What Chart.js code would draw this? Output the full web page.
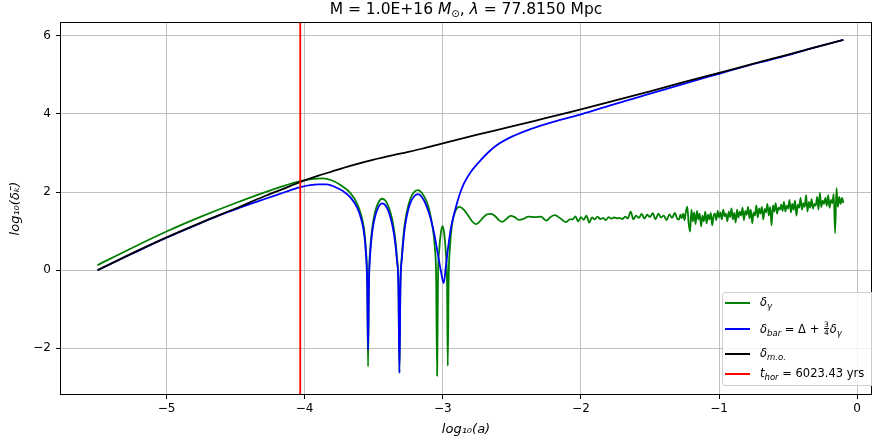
<!DOCTYPE html>
<html><head><meta charset="utf-8">
<script src="https://cdn.jsdelivr.net/npm/chart.js@4"></script>
<style>
html,body{margin:0;padding:0;background:#fff;overflow:hidden;}
#wrap{position:relative;width:872px;height:445px;overflow:hidden;font-family:'DejaVu Sans',sans-serif;color:#000;}
#title{position:absolute;left:61px;width:810px;top:0px;text-align:center;font-size:15.5px;line-height:19px;}
#title sub{font-size:10px;vertical-align:-3px;}
#legend{position:absolute;left:722px;top:292px;width:160px;height:94px;background:rgba(255,255,255,0.8);border:1px solid #d0d0d0;border-radius:3px;box-sizing:border-box;font-size:11.5px;}
.row{position:absolute;left:2px;height:16px;display:flex;align-items:center;white-space:nowrap;}
.sw{width:25px;height:2px;margin-right:10px;}
.row sub{font-size:8.5px;vertical-align:-3px;}
.frac{display:inline-flex;flex-direction:column;font-size:7.5px;line-height:7.5px;vertical-align:middle;margin:0 1px;text-align:center;}
.frac .n{border-bottom:0.8px solid #000;}
canvas{position:absolute;left:0;top:0;}
</style></head>
<body>
<div id="wrap">
<canvas id="c" width="872" height="445"></canvas>
<div id="title">M = 1.0E+16 <i>M</i><sub>⊙</sub>, <i>λ</i> = 77.8150 Mpc</div>
<div id="legend">
  <div class="row" style="top:2px"><span class="sw" style="background:#008000"></span><span><i>δ</i><sub><i>γ</i></sub></span></div>
  <div class="row" style="top:28px"><span class="sw" style="background:#0000ff"></span><span><i>δ</i><sub><i>bar</i></sub> = Δ + <span class="frac"><span class="n">3</span><span>4</span></span><i>δ</i><sub><i>γ</i></sub></span></div>
  <div class="row" style="top:53px"><span class="sw" style="background:#000"></span><span><i>δ</i><sub><i>m.o.</i></sub></span></div>
  <div class="row" style="top:73px"><span class="sw" style="background:#ff0000"></span><span><i>t</i><sub><i>hor</i></sub> = 6023.43 yrs</span></div>
</div>
</div>
<script>
// ---- data (x = log10(a), y = log10(delta)) ----
const tHorX = -4.032;
const redLine = [[tHorX, -4], [tHorX, 7]];

const blackCurve = [
  [-5.5,0.0],[-5.25,0.43],[-5.0,0.84],[-4.75,1.22],[-4.5,1.58],[-4.3,1.88],[-4.15,2.09],[-4.03,2.26],
  [-3.9,2.42],[-3.8,2.53],[-3.67,2.67],[-3.5,2.83],[-3.3,2.99],[-3.15,3.11],[-3.0,3.25],
  [-2.75,3.47],[-2.5,3.68],[-2.25,3.9],[-2.0,4.12],[-1.75,4.35],[-1.5,4.58],[-1.25,4.82],
  [-1.0,5.05],[-0.75,5.29],[-0.5,5.52],[-0.3,5.71],[-0.1,5.9]
];

const blueCurve = [
  [-5.5,0.0],[-5.25,0.42],[-5.0,0.83],[-4.75,1.21],[-4.6,1.43],[-4.47,1.6],[-4.3,1.81],[-4.2,1.93],
  [-4.1,2.05],[-4.03,2.13],[-3.96,2.18],[-3.9,2.2],[-3.84,2.2],[-3.78,2.13],[-3.72,2.02],
  [-3.67,1.87],[-3.62,1.6],[-3.59,1.3],[-3.57,0.95],[-3.556,0.4],[-3.547,-0.4],
  [-3.541,-2.04],[-3.535,-0.4],[-3.526,0.4],[-3.51,1.0],[-3.49,1.38],[-3.465,1.62],[-3.44,1.71],
  [-3.415,1.66],[-3.39,1.48],[-3.365,1.15],[-3.345,0.72],[-3.332,0.25],[-3.321,-0.45],
  [-3.314,-2.63],[-3.307,-0.45],[-3.296,0.3],[-3.28,0.95],[-3.26,1.4],[-3.235,1.72],
  [-3.205,1.9],[-3.18,1.95],[-3.15,1.87],[-3.12,1.66],[-3.09,1.35],[-3.06,0.9],
  [-3.035,0.4],[-3.015,0.0],[-2.993,-0.33],[-2.978,0.1],[-2.96,0.62],[-2.94,1.1],[-2.91,1.55],
  [-2.88,1.92],[-2.85,2.2],[-2.8,2.5],[-2.73,2.8],[-2.67,3.02],[-2.61,3.2],[-2.5,3.42],
  [-2.36,3.62],[-2.2,3.8],[-2.0,3.99],[-1.75,4.26],[-1.5,4.52],[-1.25,4.78],[-1.0,5.03],
  [-0.75,5.28],[-0.5,5.51],[-0.3,5.71],[-0.1,5.9]
];

const greenCurve = [
  [-5.5,0.13],[-5.25,0.57],[-5.0,0.99],[-4.75,1.37],[-4.5,1.72],[-4.3,1.98],[-4.15,2.16],[-4.03,2.28],
  [-3.95,2.33],[-3.87,2.35],[-3.81,2.31],[-3.74,2.18],[-3.67,1.98],[-3.62,1.7],[-3.59,1.4],
  [-3.57,1.05],[-3.556,0.5],[-3.547,-0.3],[-3.541,-2.47],[-3.535,-0.3],[-3.526,0.5],[-3.51,1.1],
  [-3.49,1.5],[-3.465,1.74],[-3.44,1.83],[-3.415,1.78],[-3.39,1.6],[-3.365,1.28],[-3.345,0.82],
  [-3.332,0.33],[-3.321,-0.4],[-3.314,-2.63],[-3.307,-0.4],[-3.296,0.38],[-3.28,1.05],
  [-3.26,1.5],[-3.235,1.83],[-3.205,2.01],[-3.18,2.05],[-3.15,1.97],[-3.12,1.78],[-3.095,1.5],
  [-3.075,1.12],[-3.058,0.6],[-3.048,-0.2],[-3.041,-2.70],[-3.035,-0.3],[-3.025,0.55],
  [-3.012,1.0],[-3.002,1.13],[-2.99,0.95],[-2.978,0.45],[-2.969,-0.35],[-2.964,-2.45],
  [-2.958,-0.3],[-2.948,0.6],[-2.932,1.2],[-2.91,1.5],[-2.88,1.62],[-2.85,1.56],[-2.82,1.42],
  [-2.79,1.26],[-2.76,1.18],[-2.735,1.24],[-2.71,1.34],[-2.68,1.43],[-2.65,1.44],[-2.62,1.38],
  [-2.59,1.27],[-2.57,1.24],[-2.54,1.31],[-2.51,1.39],[-2.48,1.36],[-2.45,1.29],[-2.42,1.31],
  [-2.38,1.37],[-2.33,1.36],[-2.29,1.37],[-2.25,1.27],[-2.22,1.36],[-2.19,1.41],[-2.15,1.33],
  [-2.11,1.23],[-2.08,1.30],
  [-2.06,1.30],[-2.04,1.38],[-2.02,1.25],[-2.00,1.36],[-1.98,1.29],[-1.96,1.40],[-1.94,1.22],
  [-1.92,1.35],[-1.90,1.30],[-1.88,1.37],[-1.86,1.31],[-1.84,1.34],[-1.82,1.28],[-1.80,1.36],
  [-1.78,1.32],[-1.76,1.35],[-1.74,1.33],[-1.72,1.34],[-1.70,1.31],[-1.68,1.37],[-1.66,1.33],
  [-1.64,1.50],[-1.62,1.30],[-1.60,1.40],[-1.58,1.34],[-1.56,1.44],[-1.54,1.32],[-1.52,1.42],
  [-1.50,1.36],[-1.48,1.46],[-1.46,1.30],[-1.44,1.45],[-1.42,1.35],[-1.40,1.40],[-1.38,1.28],
  [-1.36,1.43],[-1.34,1.34],[-1.32,1.47],[-1.30,1.30],
  [-1.29,1.30],[-1.28,1.42],[-1.27,1.33],[-1.26,1.45],[-1.25,1.28],[-1.24,1.50],[-1.23,1.63],
  [-1.22,1.20],[-1.21,0.99],[-1.20,1.55],[-1.19,1.25],[-1.18,1.48],[-1.17,1.18],[-1.16,1.52],
  [-1.15,1.30],[-1.14,1.45],[-1.13,1.12],[-1.12,1.40],[-1.11,1.25],[-1.10,1.50],[-1.09,1.20],
  [-1.08,1.42],[-1.07,1.30],[-1.06,1.47],[-1.05,1.15],[-1.04,1.38],[-1.03,1.45],[-1.02,1.28],
  [-1.01,1.52],[-1.00,1.35],[-0.99,1.48],[-0.98,1.30],[-0.97,1.55],[-0.96,1.38],[-0.95,1.45],
  [-0.94,1.25],[-0.93,1.50],[-0.92,1.36],[-0.91,1.58],[-0.90,1.30],[-0.89,1.47],[-0.88,1.22],
  [-0.87,1.55],[-0.86,1.35],[-0.85,1.50],[-0.84,1.40],[-0.83,1.60],[-0.82,1.28],[-0.81,1.52],
  [-0.80,1.42],[-0.79,1.62],[-0.78,1.33],[-0.77,1.55],[-0.76,1.20],[-0.75,1.48],[-0.74,1.40],
  [-0.73,1.66],[-0.72,1.35],[-0.71,1.58],[-0.70,1.45],[-0.69,1.62],[-0.68,1.30],[-0.67,1.57],
  [-0.66,1.48],[-0.65,1.70],[-0.64,1.40],[-0.63,1.62],[-0.62,1.15],[-0.61,1.66],[-0.60,1.50],
  [-0.59,1.72],[-0.58,1.45],[-0.57,1.60],[-0.56,1.55],[-0.55,1.68],[-0.54,1.52],[-0.53,1.75],
  [-0.52,1.50],[-0.51,1.65],[-0.50,1.58],[-0.49,1.80],[-0.48,1.48],[-0.47,1.70],[-0.46,1.55],
  [-0.45,1.78],[-0.44,1.40],[-0.43,1.68],[-0.42,1.60],[-0.41,1.85],[-0.40,1.55],[-0.39,1.72],
  [-0.38,1.62],[-0.37,1.92],[-0.36,1.50],[-0.35,1.75],[-0.34,1.60],[-0.33,1.82],[-0.32,1.58],
  [-0.31,1.70],[-0.30,1.65],[-0.29,1.88],[-0.28,1.55],[-0.27,1.98],[-0.26,1.62],[-0.25,1.78],
  [-0.24,1.70],[-0.23,1.85],[-0.22,1.65],[-0.21,1.92],[-0.20,1.60],[-0.19,1.80],[-0.18,1.72],
  [-0.17,1.95],[-0.16,0.95],[-0.15,2.10],[-0.14,1.62],[-0.13,1.88],[-0.12,1.70],[-0.11,1.85],
  [-0.10,1.72]
];

const xTickStep = 1, yTickStep = 2;
const xRange = [-5.764, 0.1], yRange = [-3.17, 6.33];

// ---- chart ----
const toPts = arr => arr.map(p => ({x: p[0], y: p[1]}));
const fmt = v => (v < 0 ? '\u2212' + Math.abs(v) : String(v));

const framePlugin = {
  id: 'frame',
  afterDraw(chart) {
    const {ctx, chartArea: a} = chart;
    ctx.save();
    ctx.strokeStyle = '#000';
    ctx.lineWidth = 1;
    ctx.strokeRect(a.left - 0.5, a.top - 0.5, a.right - a.left + 1, a.bottom - a.top + 1);
    ctx.restore();
  }
};

const font = {family: "'DejaVu Sans', sans-serif", size: 12};
const ds = (label, arr, color, w, smooth) => ({
  label, data: toPts(arr), borderColor: color, backgroundColor: color,
  borderWidth: w, pointRadius: 0, fill: false,
  cubicInterpolationMode: smooth ? 'monotone' : 'default', tension: 0,
  borderJoinStyle: 'round'
});

new Chart(document.getElementById('c'), {
  type: 'line',
  data: {
    datasets: [
      ds('t_hor', redLine, '#ff0000', 1.8, false),
      ds('delta_m.o.', blackCurve, '#000000', 1.8, true),
      ds('delta_bar', blueCurve, '#0000ff', 1.8, true),
      ds('delta_gamma', greenCurve, '#008000', 1.8, true)
    ]
  },
  options: {
    responsive: false,
    animation: false,
    devicePixelRatio: 1,
    layout: {padding: {top: 23, right: 1, left: 0, bottom: 0}},
    plugins: {legend: {display: false}, tooltip: {enabled: false}, title: {display: false}},
    scales: {
      x: {
        type: 'linear', min: xRange[0], max: xRange[1],
        ticks: {stepSize: xTickStep, includeBounds: false, callback: fmt, color: '#000', font, padding: 3, maxRotation: 0},
        grid: {color: '#b0b0b0', lineWidth: 0.8, tickLength: 5, tickColor: '#000', tickWidth: 1},
        border: {display: false},
        title: {display: true, text: 'log₁₀(a)', color: '#000', font: {...font, size: 13, style: 'italic'}, padding: {top: 0, bottom: 8}},
        afterFit(s) { s.height = 51; }
      },
      y: {
        type: 'linear', min: yRange[0], max: yRange[1],
        ticks: {stepSize: yTickStep, includeBounds: false, callback: fmt, color: '#000', font, padding: 5},
        grid: {color: '#b0b0b0', lineWidth: 0.8, tickLength: 5, tickColor: '#000', tickWidth: 1},
        border: {display: false},
        title: {display: true, text: 'log₁₀(δₖ̄)', color: '#000', font: {...font, size: 13, style: 'italic'}, padding: {top: 8, bottom: 0}},
        afterFit(s) { s.width = 61; }
      }
    }
  },
  plugins: [framePlugin]
});
</script>
</body></html>
